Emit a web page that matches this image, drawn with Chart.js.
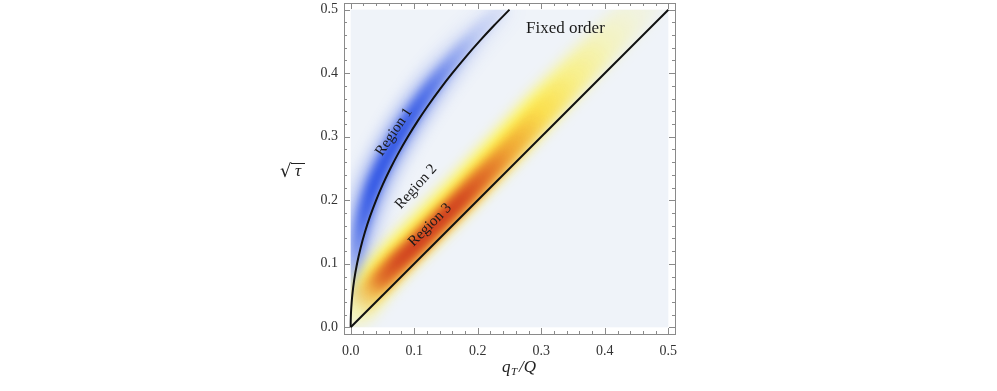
<!DOCTYPE html>
<html>
<head>
<meta charset="utf-8">
<script src="https://cdn.jsdelivr.net/npm/chart.js@4.4.1/dist/chart.umd.min.js"></script>
<style>
    html, body { margin: 0; background: #ffffff; }
    #wrap { width: 997px; height: 391px; }
</style>
</head>
<body>
<div id="wrap"><canvas id="regionChart"></canvas></div>
<script>
const majorTicks = [0, 0.1, 0.2, 0.3, 0.4, 0.5];
const minorTicks = [0.02, 0.04, 0.06, 0.08, 0.12, 0.14, 0.16, 0.18, 0.22, 0.24, 0.26, 0.28,
    0.32, 0.34, 0.36, 0.38, 0.42, 0.44, 0.46, 0.48];

// boundary between region 1 and 2
const boundaryX = [0, 0.00003, 0.0001, 0.0004, 0.0009, 0.0025, 0.0056, 0.01, 0.0156, 0.0225, 0.0306, 0.04,
    0.0506, 0.0625, 0.0756, 0.09, 0.1056, 0.1225, 0.1406, 0.16, 0.1806, 0.2025, 0.2256, 0.25];
const boundaryY = [0, 0.005, 0.01, 0.02, 0.03, 0.05, 0.075, 0.1, 0.125, 0.15, 0.175, 0.2,
    0.225, 0.25, 0.275, 0.3, 0.325, 0.35, 0.375, 0.4, 0.425, 0.45, 0.475, 0.5];

// boundary between region 3 and fixed order
const diagonalX = [0, 0.5];
const diagonalY = [0, 0.5];

// ridge of the blue density (region 1), just left of the boundary
const blueRidgeX = [0.004, 0.008, 0.013, 0.022, 0.035, 0.053, 0.075, 0.1, 0.128, 0.16, 0.195, 0.235];
const blueRidgeY = [0.06, 0.1, 0.14, 0.18, 0.22, 0.26, 0.3, 0.34, 0.38, 0.42, 0.46, 0.5];
const blueLevel = [0.15, 0.35, 0.6, 0.85, 1, 1, 1, 0.9, 0.7, 0.42, 0.2, 0.08];

// ridge of the yellow/red density (region 3), just above the diagonal
const heatRidgeX = [0.01, 0.03, 0.05, 0.075, 0.1, 0.125, 0.15, 0.175, 0.2, 0.25, 0.3, 0.35, 0.4, 0.45, 0.48];
const heatRidgeY = [0.028, 0.055, 0.077, 0.103, 0.127, 0.152, 0.177, 0.202, 0.228, 0.28, 0.335, 0.388, 0.44, 0.49, 0.52];
const yellowRidgeY = [0.03, 0.06, 0.085, 0.112, 0.137, 0.162, 0.187, 0.212, 0.238, 0.29, 0.344, 0.396, 0.447, 0.497, 0.527];
const yellowLevel = [0.35, 0.8, 1, 1, 1, 1, 1, 1, 1, 1, 0.9, 0.6, 0.33, 0.14, 0.05];
const orangeLevel = [0, 0.35, 0.8, 1, 1, 1, 1, 1, 0.95, 0.6, 0.25, 0.05, 0, 0, 0];
const redLevel = [0, 0.15, 0.6, 0.9, 1, 1, 1, 0.9, 0.65, 0.2, 0, 0, 0, 0, 0];

const regionLabels = ["Region 1", "Region 2", "Region 3", "Fixed order"];
const regionLabelX = [0.068, 0.103, 0.125, 0.338];
const regionLabelY = [0.3075, 0.221, 0.161, 0.471];
const regionLabelAngle = [-56, -48, -45, 0];

const toPoints = (xs, ys) => xs.map((x, i) => ({ x, y: ys[i] }));

// one gradient running along the ridge, so the band is stroked as a single path
function ridgeGradient(xs, ys, rgb, levels, scale) {
    return (context) => {
        const chart = context.chart;
        const { x: sx, y: sy } = chart.scales;
        if (!chart.chartArea || !sx || !sy) {
            return "rgba(0,0,0,0)";
        }
        const px = xs.map((v) => sx.getPixelForValue(v));
        const py = ys.map((v) => sy.getPixelForValue(v));
        const n = xs.length - 1;
        const dx = px[n] - px[0];
        const dy = py[n] - py[0];
        const len2 = dx * dx + dy * dy;
        const gradient = chart.ctx.createLinearGradient(px[0], py[0], px[n], py[n]);
        xs.forEach((_, i) => {
            const t = Math.min(1, Math.max(0, ((px[i] - px[0]) * dx + (py[i] - py[0]) * dy) / len2));
            const a = levels[i] * scale;
            gradient.addColorStop(t, `rgba(${rgb[0]},${rgb[1]},${rgb[2]},${a.toFixed(3)})`);
        });
        return gradient;
    };
}

function band(xs, ys, rgb, levels, scale, width, blur, order) {
    return {
        data: toPoints(xs, ys),
        showLine: true,
        pointRadius: 0,
        borderWidth: width,
        borderCapStyle: "round",
        borderJoinStyle: "round",
        borderColor: ridgeGradient(xs, ys, rgb, levels, scale),
        tension: 0.4,
        blur,
        order,
    };
}

const blue = [44, 82, 228];
const yellow = [255, 244, 70];
const orange = [240, 140, 45];
const red = [204, 56, 30];

const datasets = [
    {
        data: toPoints(boundaryX, boundaryY),
        showLine: true,
        pointRadius: 0,
        borderColor: "#111111",
        borderWidth: 2,
        tension: 0.3,
        order: 0,
    },
    {
        data: toPoints(diagonalX, diagonalY),
        showLine: true,
        pointRadius: 0,
        borderColor: "#111111",
        borderWidth: 2,
        order: 1,
    },
    band(heatRidgeX, heatRidgeY, red, redLevel, 0.9, 16, 4, 2),
    band(heatRidgeX, heatRidgeY, orange, orangeLevel, 0.85, 25, 5, 3),
    band(heatRidgeX, yellowRidgeY, yellow, yellowLevel, 1, 35, 7, 4),
    band(blueRidgeX, blueRidgeY, blue, blueLevel, 0.92, 15, 4, 5),
    band(blueRidgeX, blueRidgeY, blue, blueLevel, 0.45, 30, 8, 6),
];

function dataBox(chart) {
    const { x, y } = chart.scales;
    const left = x.getPixelForValue(0);
    const right = x.getPixelForValue(0.5);
    const top = y.getPixelForValue(0.5);
    const bottom = y.getPixelForValue(0);
    return { left, right, top, bottom };
}

const framePlugin = {
    id: "densityFrame",
    beforeDatasetsDraw(chart) {
        const { ctx } = chart;
        const box = dataBox(chart);
        ctx.save();
        ctx.fillStyle = "#eff3f9";
        ctx.fillRect(box.left, box.top, box.right - box.left, box.bottom - box.top);
        ctx.restore();
    },
    beforeDatasetDraw(chart, args) {
        const { ctx } = chart;
        const dataset = chart.data.datasets[args.index];
        ctx.save();
        if (dataset.blur) {
            const box = dataBox(chart);
            ctx.beginPath();
            ctx.rect(box.left, box.top, box.right - box.left, box.bottom - box.top);
            ctx.clip();
            ctx.filter = `blur(${dataset.blur}px)`;
        }
    },
    afterDatasetDraw(chart) {
        chart.ctx.restore();
    },
    afterDatasetsDraw(chart) {
        const { ctx, chartArea: area, scales } = chart;
        ctx.save();

        ctx.strokeStyle = "#8a8a8a";
        ctx.lineWidth = 1;
        ctx.strokeRect(Math.round(area.left) + 0.5, Math.round(area.top) + 0.5,
            Math.round(area.right - area.left), Math.round(area.bottom - area.top));

        ctx.beginPath();
        const drawTicks = (values, len) => {
            for (const v of values) {
                const px = Math.round(scales.x.getPixelForValue(v)) + 0.5;
                ctx.moveTo(px, area.bottom);
                ctx.lineTo(px, area.bottom - len);
                ctx.moveTo(px, area.top);
                ctx.lineTo(px, area.top + len);
                const py = Math.round(scales.y.getPixelForValue(v)) + 0.5;
                ctx.moveTo(area.left, py);
                ctx.lineTo(area.left + len, py);
                ctx.moveTo(area.right, py);
                ctx.lineTo(area.right - len, py);
            }
        };
        drawTicks(majorTicks, 6);
        drawTicks(minorTicks, 3);
        ctx.stroke();

        ctx.fillStyle = "#1a1a1a";
        ctx.textAlign = "center";
        ctx.textBaseline = "middle";
        regionLabels.forEach((text, i) => {
            const px = scales.x.getPixelForValue(regionLabelX[i]);
            const py = scales.y.getPixelForValue(regionLabelY[i]);
            ctx.save();
            ctx.translate(px, py);
            ctx.rotate((regionLabelAngle[i] * Math.PI) / 180);
            ctx.font = i === 3 ? "17px 'Liberation Serif'" : "15px 'Liberation Serif'";
            ctx.fillText(text, 0, 0);
            ctx.restore();
        });

        // axis titles
        ctx.fillStyle = "#222222";
        ctx.textAlign = "left";
        ctx.textBaseline = "alphabetic";
        ctx.font = "18px 'DejaVu Serif'";
        ctx.fillText("√", 280, 177);
        ctx.font = "italic 17px 'Liberation Serif'";
        ctx.fillText("τ", 295, 176);
        ctx.beginPath();
        ctx.lineWidth = 1;
        ctx.strokeStyle = "#222222";
        ctx.moveTo(291, 163.5);
        ctx.lineTo(305, 163.5);
        ctx.stroke();

        ctx.font = "italic 17px 'Liberation Serif'";
        ctx.fillText("q", 502, 372);
        ctx.font = "italic 11px 'Liberation Serif'";
        ctx.fillText("T", 511, 375);
        ctx.font = "italic 17px 'Liberation Serif'";
        ctx.fillText("/Q", 519, 372);

        ctx.restore();
    },
};

const tickFont = { family: "'Liberation Serif'", size: 14 };
const noPadding = (scale) => {
    scale.paddingTop = 0;
    scale.paddingBottom = 0;
    scale.paddingLeft = 0;
    scale.paddingRight = 0;
};

new Chart(document.getElementById("regionChart"), {
    type: "scatter",
    data: { datasets },
    options: {
        responsive: true,
        maintainAspectRatio: false,
        animation: false,
        events: [],
        layout: { padding: { left: 284, right: 322, top: 3, bottom: 7 } },
        plugins: { legend: { display: false }, tooltip: { enabled: false } },
        scales: {
            x: {
                type: "linear",
                min: -0.0105,
                max: 0.5105,
                grid: { display: false, drawTicks: false },
                border: { display: false },
                ticks: { font: tickFont, color: "#333333", padding: 9, callback: (v) => v.toFixed(1) },
                afterBuildTicks: (scale) => { scale.ticks = majorTicks.map((value) => ({ value })); },
                afterFit: (scale) => { scale.height = 50; noPadding(scale); },
            },
            y: {
                type: "linear",
                min: -0.0105,
                max: 0.5105,
                grid: { display: false, drawTicks: false },
                border: { display: false },
                ticks: { font: tickFont, color: "#333333", padding: 6, callback: (v) => v.toFixed(1) },
                afterBuildTicks: (scale) => { scale.ticks = majorTicks.map((value) => ({ value })); },
                afterFit: (scale) => { scale.width = 60; noPadding(scale); },
            },
        },
    },
    plugins: [framePlugin],
});
</script>
</body>
</html>
